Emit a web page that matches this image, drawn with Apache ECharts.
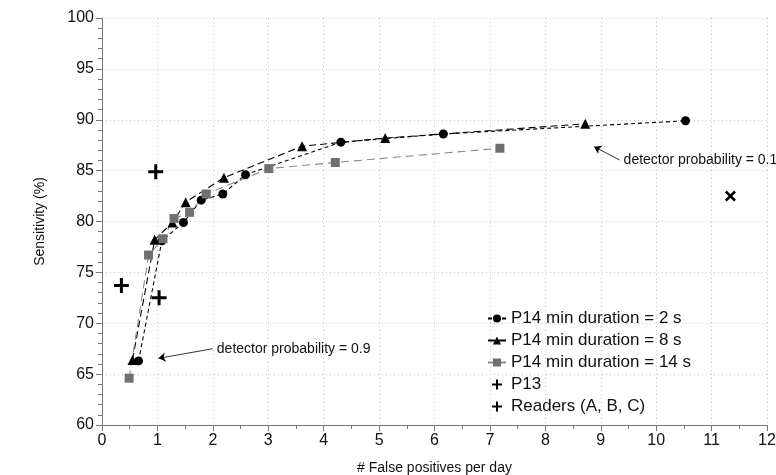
<!DOCTYPE html>
<html>
<head>
<meta charset="utf-8">
<script src="https://cdn.jsdelivr.net/npm/echarts@6/dist/echarts.min.js"></script>
<style>
  html, body { margin: 0; padding: 0; background: #fff; }
  #chart { width: 776px; height: 475px; }
</style>
</head>
<body>
<div id="chart"></div>
<script>
// values: [false positives per day, sensitivity %]
const dur2s = [[0.66, 66.3], [1.08, 78.1], [1.47, 79.9], [1.79, 82.1], [2.18, 82.7], [2.59, 84.6], [4.31, 87.8], [6.16, 88.6], [10.53, 89.9]]
const dur8s = [[0.55, 66.4], [0.95, 78.2], [1.27, 79.9], [1.51, 81.9], [2.2, 84.3], [3.61, 87.4], [5.11, 88.2], [8.72, 89.6]]
const dur14s = [[0.49, 64.6], [0.84, 76.7], [1.1, 78.3], [1.3, 80.3], [1.58, 80.9], [1.88, 82.7], [3.01, 85.2], [4.21, 85.8], [7.18, 87.2]]
const p13 = [[11.34, 82.5]]
const readers = [[0.97, 84.9], [0.35, 73.7], [1.03, 72.5]]

const seriesNames = ['P14 min duration = 2 s', 'P14 min duration = 8 s', 'P14 min duration = 14 s', 'P13', 'Readers (A, B, C)']
const xTicks = { min: 0, max: 12, step: 1 }
const yTicks = { min: 60, max: 100, step: 5 }

// annotation arrows: [tail, head] in data coords
const arrowLow = [[2.0, 67.5], [1.02, 66.55]]
const arrowHigh = [[9.34, 86.05], [8.88, 87.35]]

const FONT = '"Liberation Sans", Arial, sans-serif'
const plusPath = 'path://M4,0h2v4h4v2h-4v4h-2v-4h-4v-2h4z'

const chart = echarts.init(document.getElementById('chart'))

function lineSeries(name, data, symbol, size, color, dash) {
  return {
    name: name,
    type: 'line',
    data: data,
    symbol: symbol,
    symbolSize: size,
    itemStyle: { color: color },
    lineStyle: { color: color, width: 1.1, type: dash },
    animation: false
  }
}

const s2 = lineSeries(seriesNames[0], dur2s, 'circle', 9, '#000', [4, 3])
const s8 = lineSeries(seriesNames[1], dur8s, 'triangle', 10, '#000', [7, 4])
const s14 = lineSeries(seriesNames[2], dur14s, 'rect', 9, '#707070', [8, 5])
s14.lineStyle.color = '#8a8a8a'

s2.markLine = {
  silent: true,
  symbol: ['none', 'arrow'],
  symbolSize: 7,
  label: { show: false },
  lineStyle: { color: '#000', width: 0.8, type: 'solid' },
  data: [
    [{ coord: arrowLow[0] }, { coord: arrowLow[1] }],
    [{ coord: arrowHigh[0] }, { coord: arrowHigh[1] }]
  ]
}

chart.setOption({
  animation: false,
  textStyle: { fontFamily: FONT },
  grid: { left: 102, right: 9, top: 18, bottom: 50, outerBoundsMode: 'none' },
  legend: {
    orient: 'vertical',
    left: 482,
    top: 305,
    itemWidth: 18,
    itemHeight: 10,
    itemGap: 5,
    textStyle: { fontSize: 17, color: '#111', fontFamily: FONT },
    data: seriesNames
  },
  xAxis: {
    type: 'value',
    min: xTicks.min,
    max: xTicks.max,
    interval: xTicks.step,
    name: '# False positives per day',
    nameLocation: 'middle',
    nameGap: 36,
    nameTextStyle: { fontSize: 14, color: '#111' },
    axisLine: { lineStyle: { color: '#777' } },
    axisTick: { length: 6, lineStyle: { color: '#777' } },
    minorTick: { show: true, splitNumber: 2, length: 4, lineStyle: { color: '#777' } },
    axisLabel: { fontSize: 16, color: '#111', margin: 8 },
    splitLine: { show: true, lineStyle: { color: '#c8c8c8', type: [1, 3] } }
  },
  yAxis: {
    type: 'value',
    min: yTicks.min,
    max: yTicks.max,
    interval: yTicks.step,
    name: 'Sensitivity (%)',
    nameLocation: 'middle',
    nameGap: 55,
    nameTextStyle: { fontSize: 14, color: '#111' },
    axisLine: { show: true, lineStyle: { color: '#777' } },
    axisTick: { show: true, length: 6, lineStyle: { color: '#777' } },
    minorTick: { show: true, splitNumber: 5, length: 4, lineStyle: { color: '#777' } },
    axisLabel: { fontSize: 16, color: '#111', margin: 8 },
    splitLine: { show: true, lineStyle: { color: '#c8c8c8', type: [1, 3] } }
  },
  series: [
    s2,
    s8,
    s14,
    {
      name: seriesNames[3],
      type: 'scatter',
      data: p13,
      symbol: plusPath,
      symbolRotate: 45,
      symbolSize: 13,
      itemStyle: { color: '#000', opacity: 1 }
    },
    {
      name: seriesNames[4],
      type: 'scatter',
      data: readers,
      symbol: plusPath,
      symbolSize: 15,
      itemStyle: { color: '#000', opacity: 1 }
    }
  ]
})

// annotation texts next to the arrow tails
const lowTail = chart.convertToPixel({ gridIndex: 0 }, arrowLow[0])
const highTail = chart.convertToPixel({ gridIndex: 0 }, arrowHigh[0])
chart.setOption({
  graphic: [
    {
      type: 'text',
      x: lowTail[0] + 4,
      y: lowTail[1],
      style: { text: 'detector probability = 0.9', fill: '#111', font: '14px ' + FONT, verticalAlign: 'middle' }
    },
    {
      type: 'text',
      x: highTail[0] + 4,
      y: highTail[1],
      style: { text: 'detector probability = 0.1', fill: '#111', font: '14px ' + FONT, verticalAlign: 'middle' }
    }
  ]
})
</script>
</body>
</html>
